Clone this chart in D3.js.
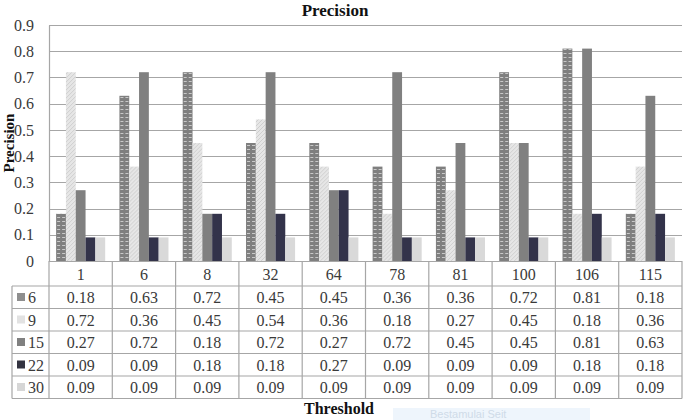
<!DOCTYPE html>
<html>
<head>
<meta charset="utf-8">
<script src="https://cdn.jsdelivr.net/npm/d3@7"></script>
<style>
  html, body { margin: 0; padding: 0; background: #fff; }
  svg { display: block; }
</style>
</head>
<body>
<svg id="chart" width="686" height="420"></svg>
<script>
// thresholds on the x axis
const thresholds = ['1', '6', '8', '32', '64', '78', '81', '100', '106', '115'];
// series names (legend)
const seriesNames = ['6', '9', '15', '22', '30'];
// precision values per series
const s6 = [0.18, 0.63, 0.72, 0.45, 0.45, 0.36, 0.36, 0.72, 0.81, 0.18];
const s9 = [0.72, 0.36, 0.45, 0.54, 0.36, 0.18, 0.27, 0.45, 0.18, 0.36];
const s15 = [0.27, 0.72, 0.18, 0.72, 0.27, 0.72, 0.45, 0.45, 0.81, 0.63];
const s22 = [0.09, 0.09, 0.18, 0.18, 0.27, 0.09, 0.09, 0.09, 0.18, 0.18];
const s30 = [0.09, 0.09, 0.09, 0.09, 0.09, 0.09, 0.09, 0.09, 0.09, 0.09];
const yTicks = [0, 0.1, 0.2, 0.3, 0.4, 0.5, 0.6, 0.7, 0.8, 0.9];

const seriesValues = [s6, s9, s15, s22, s30];

const SERIF = 'Liberation Serif, Times New Roman, serif';

const svg = d3.select('#chart');

const plot = { left: 49, right: 682, top: 25, bottom: 261 };
const tableLeft = 12;
const headerH = 25;
const rowH = 22.5;

const GRID = '#a6a6a6';
const TEXT = '#3a3a3a';

// patterns for the textured bars
const defs = svg.append('defs');

const p6 = defs.append('pattern')
  .attr('id', 'pat6')
  .attr('patternUnits', 'userSpaceOnUse')
  .attr('width', 5).attr('height', 4);
p6.append('rect').attr('width', 5).attr('height', 4).attr('fill', '#7f7f7f');
p6.append('rect').attr('x', 1).attr('y', 1).attr('width', 3).attr('height', 1).attr('fill', '#c9c9c9');

const p9 = defs.append('pattern')
  .attr('id', 'pat9')
  .attr('patternUnits', 'userSpaceOnUse')
  .attr('width', 4).attr('height', 4);
p9.append('rect').attr('width', 4).attr('height', 4).attr('fill', '#e6e6e6');
p9.append('path').attr('d', 'M0,4 L4,0').attr('stroke', '#cfcfcf').attr('stroke-width', 1);

const barFills = ['url(#pat6)', 'url(#pat9)', '#808080', '#33334a', '#d9d9d9'];
const swatchFills = ['#8e8e8e', '#e2e2e2', '#808080', '#333340', '#d6d6d6'];

// scales
const x0 = d3.scaleBand()
  .domain(thresholds)
  .range([plot.left, plot.right])
  .paddingInner(0.225)
  .paddingOuter(0.1125);

const x1 = d3.scaleBand()
  .domain(seriesNames)
  .range([0, x0.bandwidth()])
  .padding(0);

const y = d3.scaleLinear()
  .domain([0, 0.9])
  .range([plot.bottom, plot.top]);

// gridlines
svg.append('g')
  .selectAll('line')
  .data(yTicks)
  .join('line')
  .attr('x1', plot.left)
  .attr('x2', plot.right)
  .attr('y1', d => Math.round(y(d)) + 0.5)
  .attr('y2', d => Math.round(y(d)) + 0.5)
  .attr('stroke', GRID)
  .attr('stroke-width', 1.2);

// y axis
const yAxis = svg.append('g')
  .attr('transform', `translate(${plot.left},0)`)
  .call(d3.axisLeft(y).tickValues(yTicks).tickSize(0).tickPadding(15)
    .tickFormat(d => d === 0 ? '0' : d.toFixed(1)));
yAxis.attr('font-family', SERIF).attr('font-size', 16);
yAxis.select('.domain').attr('stroke', GRID).attr('stroke-width', 1.2);
yAxis.selectAll('text').attr('fill', TEXT);

// bars
const groups = svg.append('g')
  .selectAll('g')
  .data(thresholds)
  .join('g')
  .attr('transform', d => `translate(${x0(d)},0)`);

groups.selectAll('rect')
  .data((t, i) => seriesNames.map((s, j) => ({ s, j, v: seriesValues[j][i] })))
  .join('rect')
  .attr('x', d => x1(d.s))
  .attr('y', d => y(d.v))
  .attr('width', x1.bandwidth())
  .attr('height', d => y(0) - y(d.v))
  .attr('fill', d => barFills[d.j]);

// data table
const table = svg.append('g')
  .attr('font-family', SERIF)
  .attr('font-size', 16);
const tableTop = plot.bottom;
const tableBottom = tableTop + headerH + rowH * seriesNames.length;
const step = x0.step();
const colEdges = d3.range(thresholds.length + 1).map(i => plot.left + i * step);

// vertical lines
table.selectAll('.vline')
  .data(colEdges)
  .join('line')
  .attr('x1', d => d).attr('x2', d => d)
  .attr('y1', tableTop).attr('y2', tableBottom)
  .attr('stroke', GRID).attr('stroke-width', 1.2);

table.append('line')
  .attr('x1', tableLeft).attr('x2', tableLeft)
  .attr('y1', tableTop + headerH).attr('y2', tableBottom)
  .attr('stroke', GRID).attr('stroke-width', 1.2);

// horizontal lines
const rowEdges = d3.range(seriesNames.length + 1).map(i => tableTop + headerH + i * rowH);
table.selectAll('.hline')
  .data(rowEdges)
  .join('line')
  .attr('x1', tableLeft).attr('x2', plot.right)
  .attr('y1', d => d).attr('y2', d => d)
  .attr('stroke', GRID).attr('stroke-width', 1.2);

// header labels
table.selectAll('.head')
  .data(thresholds)
  .join('text')
  .attr('x', d => x0(d) + x0.bandwidth() / 2)
  .attr('y', tableTop + 19)
  .attr('text-anchor', 'middle')
  .attr('fill', TEXT)
  .text(d => d);

// rows
seriesNames.forEach((name, j) => {
  const ry = tableTop + headerH + j * rowH;
  table.append('rect')
    .attr('x', 17).attr('y', ry + 7)
    .attr('width', 8).attr('height', 8)
    .attr('fill', swatchFills[j]);
  table.append('text')
    .attr('x', 28)
    .attr('y', ry + 17)
    .attr('fill', TEXT)
    .text(name);
  table.selectAll(null)
    .data(seriesValues[j])
    .join('text')
    .attr('x', (v, i) => x0(thresholds[i]) + x0.bandwidth() / 2)
    .attr('y', ry + 17)
    .attr('text-anchor', 'middle')
    .attr('fill', TEXT)
    .text(v => v.toFixed(2));
});

// titles
const titles = svg.append('g')
  .attr('font-family', SERIF)
  .attr('font-weight', 'bold')
  .attr('fill', '#111');

titles.append('text')
  .attr('x', 335).attr('y', 16)
  .attr('text-anchor', 'middle')
  .attr('font-size', 17)
  .text('Precision');

titles.append('text')
  .attr('transform', `translate(14,${(plot.top + plot.bottom) / 2}) rotate(-90)`)
  .attr('text-anchor', 'middle')
  .attr('font-size', 15)
  .text('Precision');

titles.append('text')
  .attr('x', 339).attr('y', 414)
  .attr('text-anchor', 'middle')
  .attr('font-size', 16)
  .text('Threshold');

// faint overlay box at the bottom
svg.append('rect')
  .attr('x', 393).attr('y', 408)
  .attr('width', 197).attr('height', 12)
  .attr('fill', '#eef5fc');
svg.append('text')
  .attr('x', 430).attr('y', 418)
  .attr('fill', '#cfdbe8')
  .attr('font-family', 'Liberation Sans, sans-serif')
  .attr('font-size', 11)
  .text('Bestamulai Seit');
</script>
</body>
</html>
